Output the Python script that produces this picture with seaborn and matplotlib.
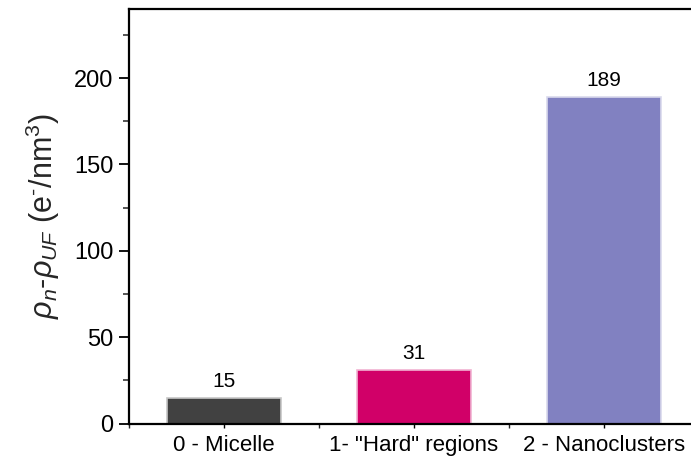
import numpy as np
import pandas as pd
import matplotlib
matplotlib.use("Agg")
import matplotlib.pyplot as plt
import matplotlib.colors as mcolors
from matplotlib.ticker import MultipleLocator, FixedLocator
import seaborn as sns

# Electron density contrast per scattering component
categories = ["0 - Micelle", "1- \"Hard\" regions", "2 - Nanoclusters"]
contrast = [15, 31, 189]
bar_colors = ["#414141", "#D10068", "#8181C1"]

sns.set_theme(style="ticks")
plt.rcParams["font.family"] = ["Liberation Sans", "DejaVu Sans"]
plt.rcParams["mathtext.fontset"] = "custom"
plt.rcParams["mathtext.rm"] = "Liberation Sans"
plt.rcParams["mathtext.it"] = "Liberation Sans:italic"

df = pd.DataFrame({"component": categories, "contrast": contrast})

fig = plt.figure(figsize=(6.91, 4.57), dpi=100)
W, H = 691, 457
left_px, right_px, top_px, bottom_px = 129, 690, 9, 423.5
ax = fig.add_axes([left_px / W, 1 - bottom_px / H,
                   (right_px - left_px) / W, (bottom_px - top_px) / H])

# lighter outline of each bar's own colour
edge_colors = [tuple(0.7 * np.array(mcolors.to_rgb("white")) + 0.3 * np.array(mcolors.to_rgb(c)))
               for c in bar_colors]

sns.barplot(data=df, x="component", y="contrast", hue="component",
            palette=bar_colors, legend=False, width=0.6, ax=ax,
            saturation=1)
for patch, ec in zip(ax.patches, edge_colors):
    patch.set_edgecolor(ec)
    patch.set_linewidth(1.2)

for cont in ax.containers:
    ax.bar_label(cont, fmt="%d", padding=5, fontsize=15, color="black")

# category spacing of 190 px; the frame stops just short of the right edge
ax.set_xlim(-0.5, -0.5 + (right_px - left_px) / 190)
ax.set_ylim(0, 240)
ax.yaxis.set_major_locator(FixedLocator([0, 50, 100, 150, 200]))
ax.yaxis.set_minor_locator(MultipleLocator(25))
ax.xaxis.set_minor_locator(FixedLocator([-0.5, 0.5, 1.5]))

ax.set_xlabel("")
ax.set_ylabel(r"$\rho_n$-$\rho_{UF}$ (e$^{\text{-}}$/nm$^{3}$)", fontsize=22, labelpad=9)

for side in ["left", "bottom", "top"]:
    ax.spines[side].set_visible(True)
    ax.spines[side].set_linewidth(1.6)
    ax.spines[side].set_color("black")
ax.spines["right"].set_visible(False)

ax.tick_params(axis="y", which="major", direction="out", length=7, width=1.3,
               labelsize=17, pad=4, colors="black")
ax.tick_params(axis="y", which="minor", direction="out", length=4, width=1.1)
ax.tick_params(axis="x", which="major", direction="out", length=3, width=1.0,
               labelsize=16, pad=5, colors="black")
ax.tick_params(axis="x", which="minor", direction="out", length=3, width=1.0)
ax.tick_params(top=False, right=False, which="both")

fig.savefig("out.png", dpi=100)
